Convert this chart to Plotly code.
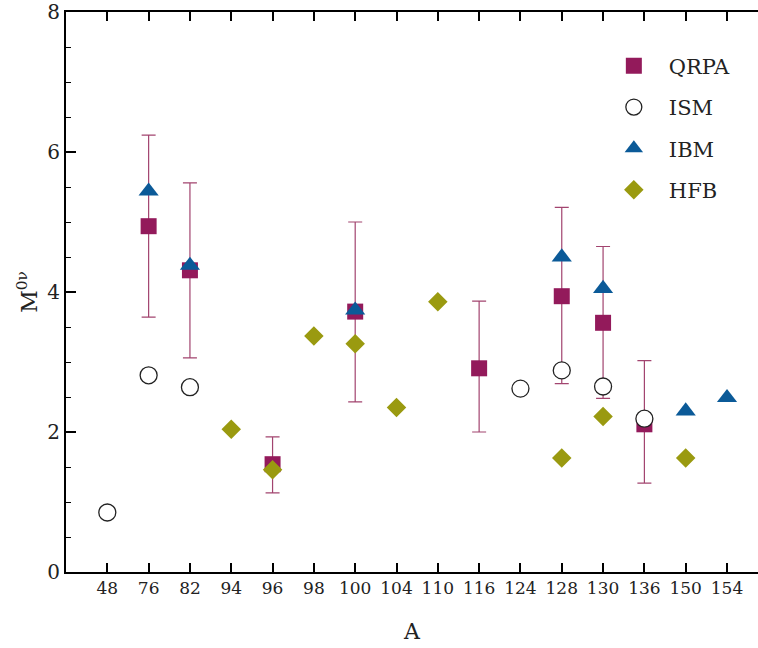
import plotly.graph_objects as go

# Categories (mass number A)
A_labels = ["48", "76", "82", "94", "96", "98", "100", "104", "110", "116",
            "124", "128", "130", "136", "150", "154"]

# QRPA with asymmetric error bars
qrpa_A = ["76", "82", "96", "100", "116", "128", "130", "136"]
qrpa_M = [4.94, 4.31, 1.54, 3.72, 2.91, 3.94, 3.56, 2.11]
qrpa_hi = [6.24, 5.56, 1.93, 5.00, 3.87, 5.21, 4.65, 3.02]
qrpa_lo = [3.64, 3.06, 1.13, 2.43, 2.00, 2.69, 2.48, 1.27]

# ISM
ism_A = ["48", "76", "82", "124", "128", "130", "136"]
ism_M = [0.85, 2.81, 2.64, 2.62, 2.88, 2.65, 2.19]

# IBM
ibm_A = ["76", "82", "100", "128", "130", "150", "154"]
ibm_M = [5.44, 4.38, 3.74, 4.50, 4.05, 2.30, 2.49]

# HFB
hfb_A = ["94", "96", "98", "100", "104", "110", "128", "130", "150"]
hfb_M = [2.04, 1.46, 3.37, 3.26, 2.35, 3.86, 1.63, 2.22, 1.63]

FONT = "DejaVu Serif"

fig = go.Figure()
fig.add_trace(go.Scatter(
    x=qrpa_A, y=qrpa_M, mode="markers", name="QRPA", legendgroup="a",
    marker=dict(symbol="square", size=16, color="#931a5b"),
    error_y=dict(type="data", symmetric=False,
                 array=[h - m for h, m in zip(qrpa_hi, qrpa_M)],
                 arrayminus=[m - l for l, m in zip(qrpa_lo, qrpa_M)],
                 color="#a2446f", thickness=1.2, width=7),
))
fig.add_trace(go.Scatter(
    x=ism_A, y=ism_M, mode="markers", name="ISM", legendgroup="b",
    marker=dict(symbol="circle", size=17, color="white",
                line=dict(color="#222222", width=1.3)),
))
fig.add_trace(go.Scatter(
    x=ibm_A, y=ibm_M, mode="markers", name="IBM", legendgroup="c",
    marker=dict(symbol="triangle-up", size=17.5, color="#0b5a98"),
))
fig.add_trace(go.Scatter(
    x=hfb_A, y=hfb_M, mode="markers", name="HFB", legendgroup="d",
    marker=dict(symbol="diamond", size=15, color="#9a9a10"),
))

fig.update_layout(
    width=758, height=648,
    margin=dict(l=66, r=0, t=8, b=76),
    paper_bgcolor="white", plot_bgcolor="white",
    font=dict(family=FONT, size=18, color="#222222"),
    showlegend=True,
    legend=dict(x=0.77, y=0.94, xanchor="left", yanchor="top",
                bgcolor="rgba(0,0,0,0)", font=dict(size=21, family=FONT),
                tracegroupgap=11, traceorder="grouped", itemwidth=60),
    xaxis=dict(
        type="category", categoryorder="array", categoryarray=A_labels,
        tickmode="array", tickvals=A_labels, ticktext=A_labels,
        range=[-1, 15.75],
        showline=True, linecolor="black", linewidth=2, mirror="ticks",
        ticks="inside", ticklen=9, tickwidth=1.5, tickcolor="black",
        showgrid=False, zeroline=False,
        tickfont=dict(size=17, family=FONT),
        title=dict(text="A", font=dict(size=22, family=FONT), standoff=26),
    ),
    yaxis=dict(
        range=[0, 8], tickmode="linear", tick0=0, dtick=2,
        showline=True, linecolor="black", linewidth=2, mirror=False,
        ticks="inside", ticklen=10, tickwidth=2, tickcolor="black",
        ticklabeloverflow="allow",
        minor=dict(dtick=0.5, ticks="inside", ticklen=5, tickwidth=1,
                   tickcolor="black", showgrid=False),
        showgrid=False, zeroline=False,
        tickfont=dict(size=20, family=FONT),
        title=dict(text="M<sup>0ν</sup>", font=dict(size=22, family=FONT),
                   standoff=4),
    ),
)

fig.write_html("out.html")
